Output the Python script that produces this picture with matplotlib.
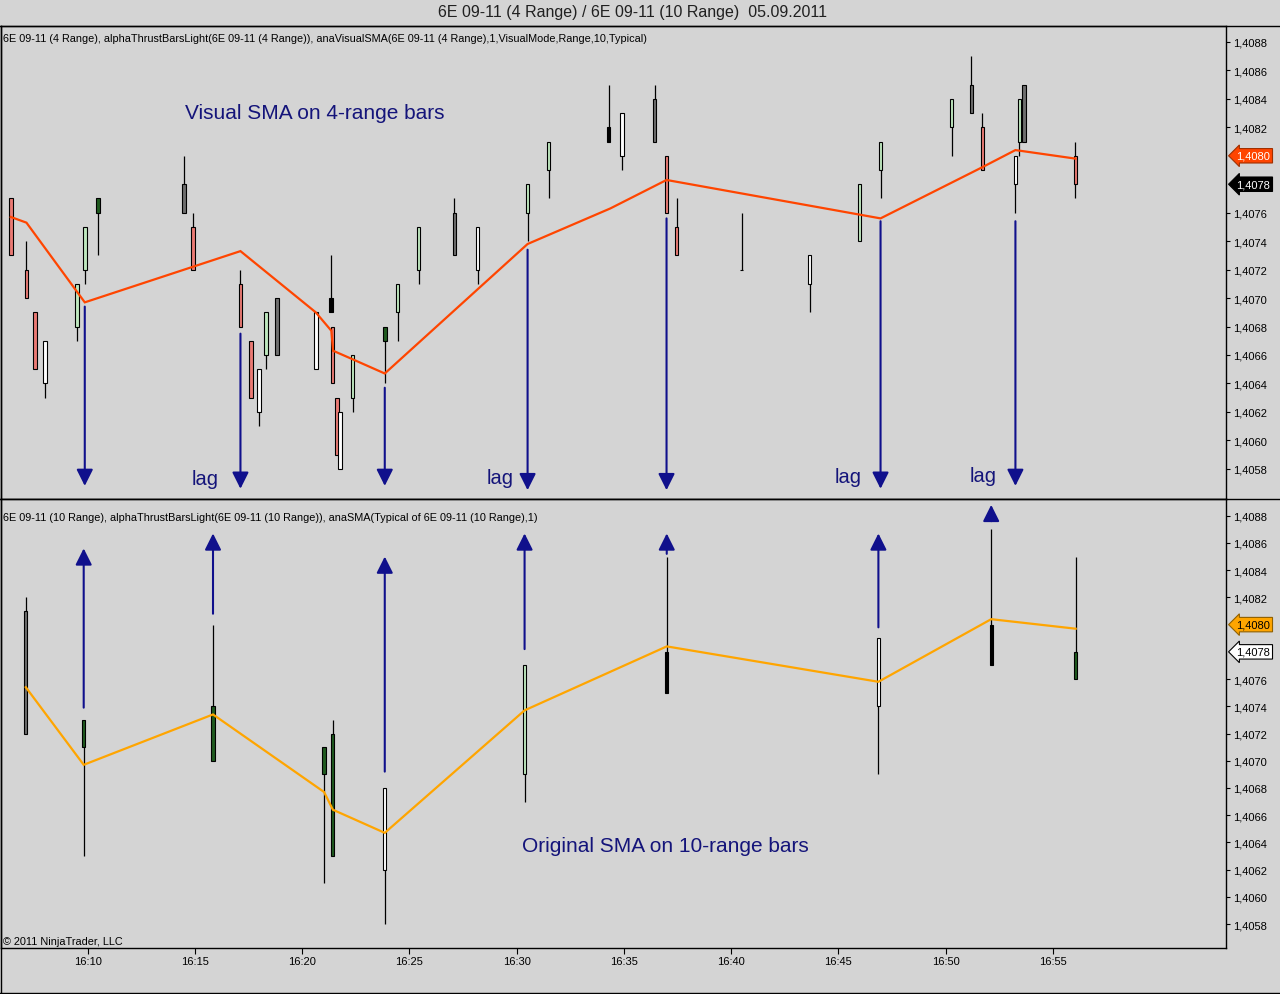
import matplotlib
matplotlib.use('Agg')
import matplotlib.pyplot as plt
from matplotlib.lines import Line2D
from matplotlib.transforms import blended_transform_factory

plt.rcParams['font.family'] = ['Liberation Sans', 'DejaVu Sans']

# ---------------- data (time = minutes after 16:00) ----------------
# 4-range bars (upper panel)
top_times = [6.41, 7.14, 7.53, 8.00, 9.49, 9.86, 10.47, 14.48, 14.90, 17.12,
             17.60, 17.97, 18.30, 18.81, 20.63, 21.33, 21.41, 21.61, 21.75, 22.35,
             23.85, 24.45, 25.43, 27.10, 28.18, 30.51, 31.49, 34.29, 34.90, 36.43,
             36.99, 37.46, 40.49, 43.66, 45.99, 46.97, 50.28, 51.21, 51.72, 53.26,
             53.45, 53.67, 56.06]
top_highs = [1.4077, 1.4074, 1.4069, 1.4067, 1.4071, 1.4075, 1.4077, 1.4080, 1.4076, 1.4072,
             1.4067, 1.4065, 1.4069, 1.4070, 1.4069, 1.4073, 1.4068, 1.4063, 1.4062, 1.4066,
             1.4068, 1.4071, 1.4075, 1.4077, 1.4075, 1.4078, 1.4081, 1.4085, 1.4083, 1.4085,
             1.4080, 1.4077, 1.4076, 1.4073, 1.4078, 1.4081, 1.4084, 1.4087, 1.4083, 1.4080,
             1.4084, 1.4085, 1.4081]
top_body_hi = [1.4077, 1.4072, 1.4069, 1.4067, 1.4071, 1.4075, 1.4077, 1.4078, 1.4075, 1.4071,
               1.4067, 1.4065, 1.4069, 1.4070, 1.4069, 1.4070, 1.4068, 1.4063, 1.4062, 1.4066,
               1.4068, 1.4071, 1.4075, 1.4076, 1.4075, 1.4078, 1.4081, 1.4082, 1.4083, 1.4084,
               1.4080, 1.4075, 1.4072, 1.4073, 1.4078, 1.4081, 1.4084, 1.4085, 1.4082, 1.4080,
               1.4084, 1.4085, 1.4080]
top_body_lo = [1.4073, 1.4070, 1.4065, 1.4064, 1.4068, 1.4072, 1.4076, 1.4076, 1.4072, 1.4068,
               1.4063, 1.4062, 1.4066, 1.4066, 1.4065, 1.4069, 1.4064, 1.4059, 1.4058, 1.4063,
               1.4067, 1.4069, 1.4072, 1.4073, 1.4072, 1.4076, 1.4079, 1.4081, 1.4080, 1.4081,
               1.4076, 1.4073, 1.4072, 1.4071, 1.4074, 1.4079, 1.4082, 1.4083, 1.4079, 1.4078,
               1.4081, 1.4081, 1.4078]
top_lows = [1.4073, 1.4070, 1.4065, 1.4063, 1.4067, 1.4071, 1.4073, 1.4076, 1.4072, 1.4068,
            1.4063, 1.4061, 1.4065, 1.4066, 1.4065, 1.4069, 1.4064, 1.4059, 1.4058, 1.4062,
            1.4064, 1.4067, 1.4071, 1.4073, 1.4071, 1.4074, 1.4077, 1.4081, 1.4079, 1.4081,
            1.4076, 1.4073, 1.4072, 1.4069, 1.4074, 1.4077, 1.4080, 1.4083, 1.4079, 1.4076,
            1.4080, 1.4081, 1.4077]
# bar colour codes: r red, g light green, G dark green, w white, k black, d dark grey
top_colors = "rrrwggGdrrrwgdwkrrwgGggdwggkwdrrkwgggdrwgdr"

# visual SMA (upper panel) vertices
vsma_times = [6.41, 7.14, 9.86, 17.12, 20.63, 21.36, 21.44, 22.35, 23.85, 30.51,
              34.37, 36.99, 46.97, 51.72, 53.26, 56.06]
vsma_values = [1.40757, 1.40753, 1.40697, 1.40733, 1.40690, 1.40677, 1.40663, 1.40657,
               1.40647, 1.40738, 1.40763, 1.40783, 1.40756, 1.40792, 1.40804, 1.40798]

# 10-range bars (lower panel)
bot_times = [7.11, 9.81, 15.84, 21.02, 21.43, 23.85, 30.37, 37.00, 46.87, 52.13, 56.07]
bot_highs = [1.4082, 1.4073, 1.4080, 1.4071, 1.4073, 1.4068, 1.4077, 1.4085, 1.4079, 1.4087, 1.4085]
bot_body_hi = [1.4081, 1.4073, 1.4074, 1.4071, 1.4072, 1.4068, 1.4077, 1.4078, 1.4079, 1.4080, 1.4078]
bot_body_lo = [1.4072, 1.4071, 1.4070, 1.4069, 1.4063, 1.4062, 1.4069, 1.4075, 1.4074, 1.4077, 1.4076]
bot_lows = [1.4072, 1.4063, 1.4070, 1.4061, 1.4063, 1.4058, 1.4067, 1.4075, 1.4069, 1.4077, 1.4076]
bot_colors = "dGGGGwgkwkG"

# original SMA (lower panel)
sma_times = [7.11, 9.81, 15.84, 21.02, 21.43, 23.85, 30.37, 37.00, 46.87, 52.13, 56.07]
sma_values = [1.40754, 1.40697, 1.40734, 1.40677, 1.40664, 1.40647, 1.40737, 1.40784,
              1.40758, 1.40804, 1.40797]

# annotation arrows
down_arrow_times = [9.86, 17.12, 23.85, 30.51, 36.99, 46.97, 53.26]
down_arrow_from = [1.40694, 1.40675, 1.40637, 1.40734, 1.40756, 1.40754, 1.40754]
down_arrow_to = [1.40568, 1.40566, 1.40568, 1.40565, 1.40565, 1.40566, 1.40568]
up_arrow_times = [9.81, 15.84, 23.85, 30.37, 37.00, 46.87, 52.13]
up_arrow_from = [1.40739, 1.40808, 1.40692, 1.40782, 1.40852, 1.40798, 1.40876]
up_arrow_to = [1.40856, 1.40867, 1.40850, 1.40867, 1.40867, 1.40867, 1.40888]

lag_label_px = [(192, 485), (487, 484), (835, 483), (970, 482)]

price_ticks = [1.4058, 1.4060, 1.4062, 1.4064, 1.4066, 1.4068, 1.4070, 1.4072,
               1.4074, 1.4076, 1.4082, 1.4084, 1.4086, 1.4088]
time_ticks = [10, 15, 20, 25, 30, 35, 40, 45, 50, 55]
time_labels = ["16:10", "16:15", "16:20", "16:25", "16:30", "16:35", "16:40",
               "16:45", "16:50", "16:55"]
flag_sma = 1.4080
flag_close = 1.4078

# ---------------- styling ----------------
BG = '#d4d4d4'
NAVY = '#14147a'
ARROW = '#10108c'
FILL = {'r': '#ea7a74', 'g': '#bfe8bf', 'G': '#1f5a1f', 'w': '#ffffff',
        'k': '#000000', 'd': '#6e6e6e'}

W, H = 1280, 995
def fx(px):
    return px / W
def fy(py):
    return 1 - py / H

fig = plt.figure(figsize=(12.8, 9.95), dpi=100, facecolor=BG)
ax1 = fig.add_axes([fx(0.5), fy(500), fx(1226) - fx(0.5), fy(27) - fy(500)])
ax2 = fig.add_axes([fx(0.5), fy(949), fx(1226) - fx(0.5), fy(500) - fy(949)])

for ax in (ax1, ax2):
    ax.set_facecolor(BG)
    ax.set_xlim(5.93, 63.08)
    for s in ax.spines.values():
        s.set_color('black')
        s.set_linewidth(1.0)
ax1.set_ylim(1.405588, 1.408912)
ax2.set_ylim(1.405624, 1.408923)


def draw_candles(ax, t, hi, bhi, blo, lo, cols, width):
    ax.vlines(t, lo, hi, color='black', linewidth=0.9, zorder=3)
    heights = [a - b for a, b in zip(bhi, blo)]
    ax.bar(t, heights, bottom=blo, width=width,
           color=[FILL[c] for c in cols], edgecolor='black',
           linewidth=0.8, zorder=3)


draw_candles(ax1, top_times, top_highs, top_body_hi, top_body_lo, top_lows, top_colors, 0.17)
draw_candles(ax2, bot_times, bot_highs, bot_body_hi, bot_body_lo, bot_lows, bot_colors, 0.15)

ax1.plot(vsma_times, vsma_values, color='#ff4500', linewidth=1.6, zorder=4,
         solid_joinstyle='miter')
ax2.plot(sma_times, sma_values, color='#ffa500', linewidth=1.6, zorder=4,
         solid_joinstyle='miter')

astyle = '-|>,head_length=0.5,head_width=0.25'
for t, a, b in zip(down_arrow_times, down_arrow_from, down_arrow_to):
    ax1.annotate('', xy=(t, b), xytext=(t, a),
                 arrowprops=dict(arrowstyle=astyle, color=ARROW, lw=1.5,
                                 mutation_scale=20, shrinkA=0, shrinkB=0),
                 zorder=5)
for t, a, b in zip(up_arrow_times, up_arrow_from, up_arrow_to):
    ax2.annotate('', xy=(t, b), xytext=(t, a),
                 arrowprops=dict(arrowstyle=astyle, color=ARROW, lw=1.5,
                                 mutation_scale=20, shrinkA=0, shrinkB=0),
                 zorder=5)

# axes ticks
def fmt_price(v):
    return f"{v:.4f}".replace('.', ',')

for ax in (ax1, ax2):
    ax.yaxis.tick_right()
    ax.set_yticks(price_ticks)
    ax.set_yticklabels([fmt_price(v) for v in price_ticks])
    ax.tick_params(axis='y', direction='out', length=3, width=0.8, pad=2,
                   labelsize=8, colors='black')
ax1.set_xticks([])
ax2.set_xticks(time_ticks)
ax2.set_xticklabels(time_labels)
ax2.tick_params(axis='x', direction='out', length=4.3, width=0.8, pad=1.5,
                labelsize=8, colors='black')

# price flags
def flag(ax, value, fc, ec, tc):
    tr = blended_transform_factory(ax.transAxes, ax.transData)
    ax.text(1.0085, value, fmt_price(value), transform=tr, ha='left', va='center',
            fontsize=8, color=tc, clip_on=False, zorder=6,
            bbox=dict(boxstyle='larrow,pad=0.2', fc=fc, ec=ec, lw=0.8))

flag(ax1, flag_sma, '#ff4500', '#a03000', 'white')
flag(ax1, flag_close, '#000000', '#000000', 'white')
flag(ax2, flag_sma, '#ffa500', '#906000', 'black')
flag(ax2, flag_close, '#ffffff', '#000000', 'black')

# frame lines outside the axes
def hline(y, x0=0, x1=W):
    fig.add_artist(Line2D([fx(x0), fx(x1)], [fy(y), fy(y)], color='black', lw=1.0))
def vline(x, y0, y1):
    fig.add_artist(Line2D([fx(x), fx(x)], [fy(y0), fy(y1)], color='black', lw=1.0))

hline(27)
hline(500)
hline(994)
vline(0.5, 27, 994)

# texts
fig.text(fx(632), fy(12), "6E 09-11 (4 Range) / 6E 09-11 (10 Range)  05.09.2011",
         ha='center', va='center', fontsize=11.5, color='#202020')
fig.text(fx(3), fy(39),
         "6E 09-11 (4 Range), alphaThrustBarsLight(6E 09-11 (4 Range)), "
         "anaVisualSMA(6E 09-11 (4 Range),1,VisualMode,Range,10,Typical)",
         ha='left', va='center', fontsize=7.8, color='black')
fig.text(fx(3), fy(518),
         "6E 09-11 (10 Range), alphaThrustBarsLight(6E 09-11 (10 Range)), "
         "anaSMA(Typical of 6E 09-11 (10 Range),1)",
         ha='left', va='center', fontsize=7.8, color='black')
fig.text(fx(3), fy(942), "\u00a9 2011 NinjaTrader, LLC", ha='left', va='center',
         fontsize=7.8, color='black')

fig.text(fx(185), fy(119), "Visual SMA on 4-range bars", ha='left', va='baseline',
         fontsize=15, color=NAVY)
fig.text(fx(522), fy(852), "Original SMA on 10-range bars", ha='left', va='baseline',
         fontsize=15, color=NAVY)
for (px, py) in lag_label_px:
    fig.text(fx(px), fy(py), "lag", ha='left', va='baseline', fontsize=14.5, color=NAVY)

fig.savefig('out.png', dpi=100, facecolor=BG)
